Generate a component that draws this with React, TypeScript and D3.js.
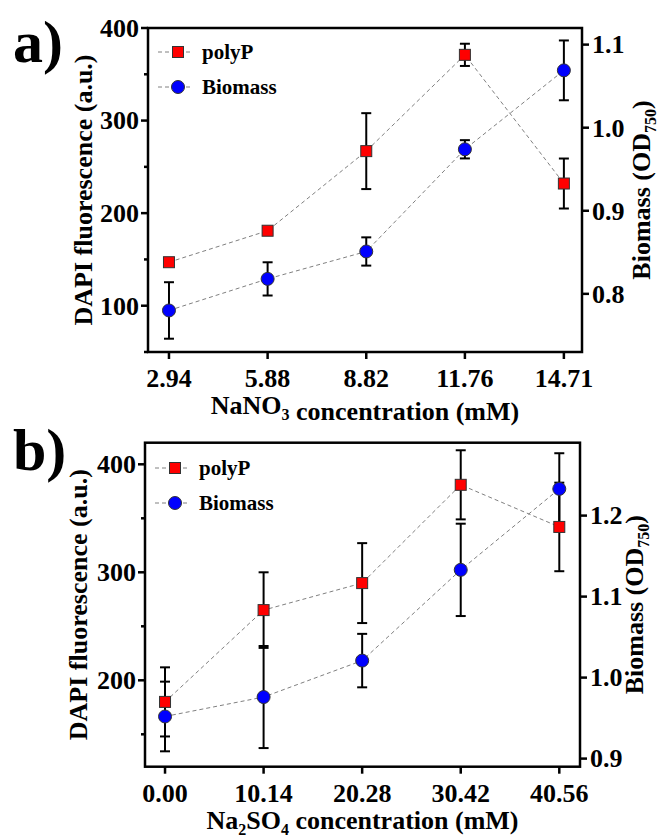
import React from 'react';
import * as d3 from 'd3';

// panel a: NaNO3 series
const concA = [2.94, 5.88, 8.82, 11.76, 14.71];
const xLabelsA = ['2.94', '5.88', '8.82', '11.76', '14.71'];
const polyPA = [147, 181, 267, 371, 232];
const polyPErrA = [4, 3, 41, 12, 27];
const biomassA = [0.78, 0.818, 0.851, 0.974, 1.069];
const biomassErrA = [0.034, 0.02, 0.017, 0.011, 0.036];
const leftTicksA = [100, 200, 300, 400];
const rightTicksA = [0.8, 0.9, 1.0, 1.1];

// panel b: Na2SO4 series
const concB = [0, 10.14, 20.28, 30.42, 40.56];
const xLabelsB = ['0.00', '10.14', '20.28', '30.42', '40.56'];
const polyPB = [180, 265, 290, 381, 342];
const polyPErrB = [32, 35, 37, 32, 41];
const biomassB = [0.952, 0.976, 1.021, 1.133, 1.233];
const biomassErrB = [0.043, 0.063, 0.033, 0.057, 0.044];
const leftTicksB = [200, 300, 400];
const rightTicksB = [0.9, 1.0, 1.1, 1.2];

const SERIF = '"Liberation Serif"';

type PanelProps = {
  tag: string;
  tagY: number;
  box: { left: number; right: number; top: number; bottom: number };
  xDomain: [number, number];
  leftDomain: [number, number];
  rightDomain: [number, number];
  conc: number[];
  xLabels: string[];
  polyP: number[];
  polyPErr: number[];
  biomass: number[];
  biomassErr: number[];
  leftTicks: number[];
  rightTicks: number[];
  salt: [string, string, string, string];
  leftTitleX: number;
  rightTitleX: number;
  legendX: number;
  legendY: number;
};

const T = (props: any) => (
  <text fontWeight="bold" style={{ fontFamily: SERIF }} {...props} />
);

const Panel = (p: PanelProps) => {
  const { box } = p;
  const x = d3.scaleLinear().domain(p.xDomain).range([box.left, box.right]);
  const yl = d3.scaleLinear().domain(p.leftDomain).range([box.bottom, box.top]);
  const yr = d3.scaleLinear().domain(p.rightDomain).range([box.bottom, box.top]);
  const midY = (box.top + box.bottom) / 2;
  const midX = (box.left + box.right) / 2;

  const polyLine = d3.line<number>().x((_, i) => x(p.conc[i])).y(d => yl(d))(p.polyP) || '';
  const bioLine = d3.line<number>().x((_, i) => x(p.conc[i])).y(d => yr(d))(p.biomass) || '';

  // minor ticks every 50 on the left axis
  const minorStart = Math.ceil(p.leftDomain[0] / 50) * 50;
  const minors = d3.range(minorStart, p.leftDomain[1] + 0.1, 50).filter(v => v % 100 !== 0);

  const errBar = (cx: number, y0: number, y1: number, key: string) => (
    <g key={key} stroke="#000" strokeWidth={2}>
      <line x1={cx} x2={cx} y1={y0} y2={y1} />
      <line x1={cx - 5} x2={cx + 5} y1={y0} y2={y0} />
      <line x1={cx - 5} x2={cx + 5} y1={y1} y2={y1} />
    </g>
  );

  return (
    <g>
      <T x={13} y={p.tagY} fontSize={60}>{p.tag}</T>

      {/* dashed connecting lines */}
      <path d={polyLine} fill="none" stroke="#808080" strokeWidth={1} strokeDasharray="4,3" />
      <path d={bioLine} fill="none" stroke="#808080" strokeWidth={1} strokeDasharray="4,3" />

      {/* error bars */}
      {p.polyP.map((v, i) => errBar(x(p.conc[i]), yl(v + p.polyPErr[i]), yl(v - p.polyPErr[i]), 'pe' + i))}
      {p.biomass.map((v, i) => errBar(x(p.conc[i]), yr(v + p.biomassErr[i]), yr(v - p.biomassErr[i]), 'be' + i))}

      {/* markers */}
      {p.polyP.map((v, i) => (
        <rect key={'ps' + i} x={x(p.conc[i]) - 5.5} y={yl(v) - 5.5} width={11} height={11}
          fill="#ff0000" stroke="#333" strokeWidth={1} />
      ))}
      {p.biomass.map((v, i) => (
        <circle key={'bc' + i} cx={x(p.conc[i])} cy={yr(v)} r={6.5}
          fill="#0000ff" stroke="#333" strokeWidth={1} />
      ))}

      {/* frame */}
      <rect x={box.left} y={box.top} width={box.right - box.left} height={box.bottom - box.top}
        fill="none" stroke="#000" strokeWidth={2.5} />

      {/* left axis */}
      {p.leftTicks.map(t => (
        <g key={'lt' + t}>
          <line x1={box.left - 7} x2={box.left} y1={yl(t)} y2={yl(t)} stroke="#000" strokeWidth={2.5} />
          <T x={box.left - 9} y={yl(t)} dy="0.34em" textAnchor="end" fontSize={26}>{t}</T>
        </g>
      ))}
      {minors.map(t => (
        <line key={'ml' + t} x1={box.left - 4} x2={box.left} y1={yl(t)} y2={yl(t)} stroke="#000" strokeWidth={2.5} />
      ))}

      {/* right axis */}
      {p.rightTicks.map(t => (
        <g key={'rt' + t}>
          <line x1={box.right} x2={box.right + 7} y1={yr(t)} y2={yr(t)} stroke="#000" strokeWidth={2.5} />
          <T x={box.right + 10} y={yr(t)} dy="0.34em" fontSize={26}>{t.toFixed(1)}</T>
        </g>
      ))}

      {/* bottom axis */}
      {p.conc.map((c, i) => (
        <g key={'bt' + i}>
          <line x1={x(c)} x2={x(c)} y1={box.bottom} y2={box.bottom + 7} stroke="#000" strokeWidth={2.5} />
          <T x={x(c)} y={box.bottom + 35} textAnchor="middle" fontSize={26}>{p.xLabels[i]}</T>
        </g>
      ))}

      {/* axis titles */}
      <T x={midX} y={box.bottom + 62} textAnchor="middle" fontSize={26}>
        {p.salt[0]}<tspan fontSize={16} dy={6}>{p.salt[1]}</tspan>
        <tspan dy={-6}>{p.salt[2]}</tspan>
        {p.salt[3] ? <tspan fontSize={16} dy={6}>{p.salt[3]}</tspan> : null}
        <tspan dy={p.salt[3] ? -6 : 0}> concentration (mM)</tspan>
      </T>
      <T transform={`translate(${p.leftTitleX},${midY}) rotate(-90)`} textAnchor="middle" fontSize={26}>
        DAPI fluorescence (a.u.)
      </T>
      <T transform={`translate(${p.rightTitleX},${midY}) rotate(-90)`} textAnchor="middle" fontSize={26}>
        Biomass (OD<tspan fontSize={16} dy={6}>750</tspan><tspan dy={-6}>)</tspan>
      </T>

      {/* legend */}
      <g>
        <line x1={p.legendX} x2={p.legendX + 35} y1={p.legendY} y2={p.legendY}
          stroke="#808080" strokeWidth={1} strokeDasharray="4,3" />
        <rect x={p.legendX + 14.5} y={p.legendY - 5.5} width={11} height={11} fill="#ff0000" stroke="#333" strokeWidth={1} />
        <T x={p.legendX + 44} y={p.legendY} dy="0.32em" fontSize={21}>polyP</T>
        <line x1={p.legendX} x2={p.legendX + 35} y1={p.legendY + 35} y2={p.legendY + 35}
          stroke="#808080" strokeWidth={1} strokeDasharray="4,3" />
        <circle cx={p.legendX + 20} cy={p.legendY + 35} r={6.5} fill="#0000ff" stroke="#333" strokeWidth={1} />
        <T x={p.legendX + 44} y={p.legendY + 35} dy="0.32em" fontSize={21}>Biomass</T>
      </g>
    </g>
  );
};

export default function App() {
  return (
    <svg width={659} height={837} style={{ position: 'absolute', left: 0, top: 0 }}>
      <rect width={659} height={837} fill="#fff" />
      <Panel
        tag="a)" tagY={62}
        box={{ left: 148, right: 582, top: 28, bottom: 352 }}
        xDomain={[2.315, 15.25]} leftDomain={[50, 400]} rightDomain={[0.73, 1.12]}
        conc={concA} xLabels={xLabelsA}
        polyP={polyPA} polyPErr={polyPErrA} biomass={biomassA} biomassErr={biomassErrA}
        leftTicks={leftTicksA} rightTicks={rightTicksA}
        salt={['NaNO', '3', '', '']}
        leftTitleX={92} rightTitleX={650}
        legendX={158} legendY={52}
      />
      <Panel
        tag="b)" tagY={470}
        box={{ left: 145, right: 580, top: 442.7, bottom: 766.7 }}
        xDomain={[-2.06, 42.69]} leftDomain={[120, 420]} rightDomain={[0.89, 1.29]}
        conc={concB} xLabels={xLabelsB}
        polyP={polyPB} polyPErr={polyPErrB} biomass={biomassB} biomassErr={biomassErrB}
        leftTicks={leftTicksB} rightTicks={rightTicksB}
        salt={['Na', '2', 'SO', '4']}
        leftTitleX={87} rightTitleX={643}
        legendX={155} legendY={468}
      />
    </svg>
  );
}
